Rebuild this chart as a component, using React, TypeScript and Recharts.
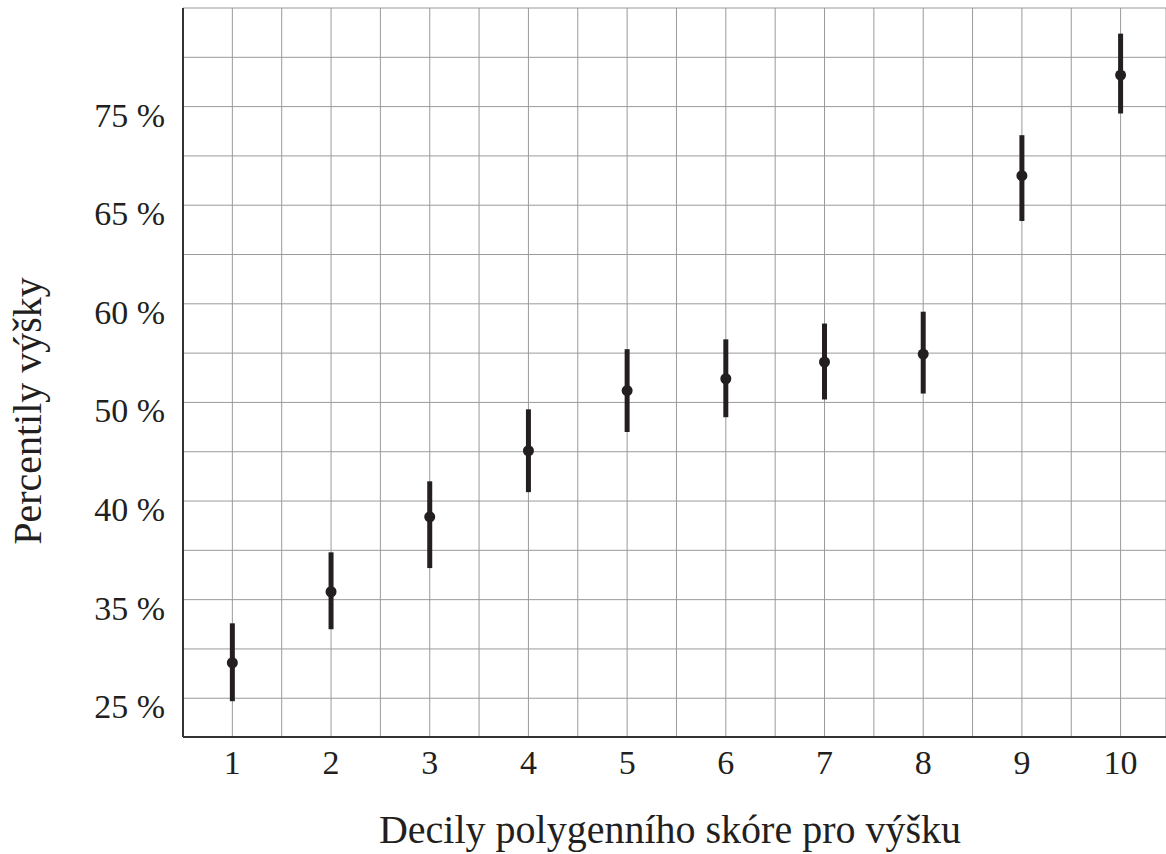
import React from 'react';
import {
  ScatterChart,
  Scatter,
  XAxis,
  YAxis,
  CartesianGrid,
  ErrorBar,
  Label,
} from 'recharts';

// deciles of the polygenic score and height percentiles (median + interval)
const deciles = [1, 2, 3, 4, 5, 6, 7, 8, 9, 10];
const medianPct = [28.6, 35.4, 39.2, 45.1, 51.2, 52.4, 54.1, 54.9, 68.0, 78.2];
const lowPct = [24.7, 32.0, 36.6, 40.9, 47.0, 48.5, 50.3, 50.9, 64.2, 74.3];
const highPct = [32.6, 37.4, 42.0, 49.3, 55.4, 56.4, 58.0, 59.2, 72.1, 82.4];

// y axis labels sit at evenly spaced positions
const yTickLabels = [25, 35, 40, 50, 60, 65, 75];
const xTicks = [1, 1.5, 2, 2.5, 3, 3.5, 4, 4.5, 5, 5.5, 6, 6.5, 7, 7.5, 8, 8.5, 9, 9.5, 10];
const yTicks = [0, 0.5, 1, 1.5, 2, 2.5, 3, 3.5, 4, 4.5, 5, 5.5, 6, 6.5];

const FONT = '"Liberation Serif", "DejaVu Serif", serif';
const INK = '#231f20';

// percent -> position on the (piecewise) axis
function toAxis(p: number) {
  const t = yTickLabels;
  let i = 0;
  while (i < t.length - 2 && p > t[i + 1]) i++;
  return i + (p - t[i]) / (t[i + 1] - t[i]);
}

const data = deciles.map((d, i) => {
  const c = toAxis(medianPct[i]);
  return {
    decile: d,
    pos: c,
    err: [c - toAxis(lowPct[i]), toAxis(highPct[i]) - c],
  };
});

const XTick = (props: any) => {
  const { x, y, payload } = props;
  if (!Number.isInteger(payload.value)) return <g />;
  return (
    <text x={x} y={y} dy="0.71em" textAnchor="middle" fontFamily={FONT} fontSize={34} fill={INK}>
      {payload.value}
    </text>
  );
};

const YTick = (props: any) => {
  const { x, y, payload } = props;
  if (!Number.isInteger(payload.value)) return <g />;
  return (
    <text x={x} y={y + 8} dy="0.355em" textAnchor="end" fontFamily={FONT} fontSize={34} fill={INK}>
      {yTickLabels[payload.value]} %
    </text>
  );
};

const Dot = (props: any) => <circle cx={props.cx} cy={props.cy} r={5.5} fill={INK} />;

export default function App() {
  return (
    <div style={{ position: 'absolute', left: 0, top: 0, background: '#fff' }}>
      <ScatterChart width={1166} height={854} margin={{ top: 8, right: 0, bottom: 0, left: 0 }}>
        <CartesianGrid stroke="#9a9a9a" strokeWidth={1} />
        <XAxis
          type="number"
          dataKey="decile"
          domain={[0.5, 10.46]}
          ticks={xTicks}
          allowDataOverflow
          height={117}
          tickLine={false}
          tickSize={0}
          tickMargin={13}
          axisLine={{ stroke: '#333', strokeWidth: 2 }}
          tick={<XTick />}
          interval={0}
        >
          <Label
            content={() => (
              <text x={670} y={843} textAnchor="middle" fontFamily={FONT} fontSize={40} fill={INK}>
                Decily polygenního skóre pro výšku
              </text>
            )}
          />
        </XAxis>
        <XAxis
          xAxisId="top"
          orientation="top"
          type="number"
          domain={[0.5, 10.46]}
          height={0}
          tick={false}
          tickLine={false}
          axisLine={{ stroke: '#333', strokeWidth: 2 }}
        />
        <YAxis
          type="number"
          dataKey="pos"
          domain={[-0.393, 7]}
          ticks={yTicks}
          allowDataOverflow
          width={183}
          tickLine={false}
          tickSize={0}
          tickMargin={18}
          axisLine={{ stroke: '#333', strokeWidth: 2 }}
          tick={<YTick />}
          interval={0}
        >
          <Label
            content={() => (
              <text
                transform="translate(41, 411) rotate(-90)"
                textAnchor="middle"
                fontFamily={FONT}
                fontSize={40}
                fill={INK}
              >
                Percentily výšky
              </text>
            )}
          />
        </YAxis>
        <Scatter data={data} shape={<Dot />} isAnimationActive={false}>
          <ErrorBar
            dataKey="err"
            direction="y"
            width={0}
            stroke={INK}
            strokeWidth={5}
            isAnimationActive={false}
          />
        </Scatter>
      </ScatterChart>
    </div>
  );
}
